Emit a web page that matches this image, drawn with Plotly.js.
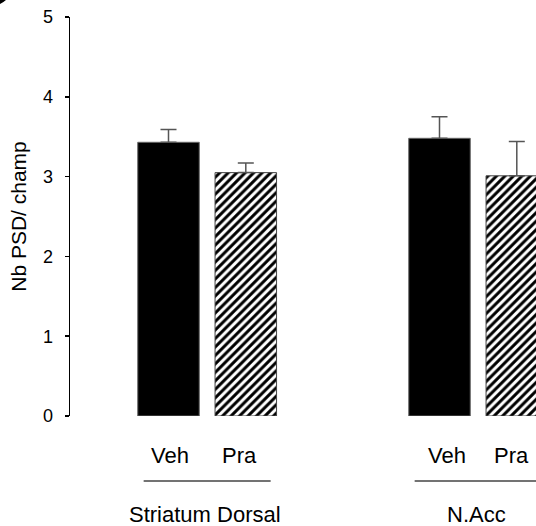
<!DOCTYPE html>
<html>
<head>
<meta charset="utf-8">
<script src="https://cdn.plot.ly/plotly-3.0.1.min.js"></script>
<style>html,body{margin:0;padding:0;background:#fff;}#chart{width:536px;height:526px;}</style>
</head>
<body>
<div id="chart"></div>
<script>
// ---- data ----
const groups = ["Striatum Dorsal", "N.Acc"];
const treatments = ["Veh", "Pra"];
const vehValues = [3.43, 3.48];
const vehErrors = [0.16, 0.27];
const praValues = [3.05, 3.01];
const praErrors = [0.12, 0.43];
const yTicks = [0, 1, 2, 3, 4, 5];
const yTitle = "Nb PSD/ champ";

// ---- layout constants (pixel-like x units) ----
const groupStart = 98.5, groupPitch = 271, barPitch = 77.3, barWidth = 61.5;
const center = (g, b) => groupStart + g * groupPitch + b * barPitch;
const FONT = "Liberation Sans, Arial, sans-serif";

const errStyle = {type: 'data', symmetric: false, arrayminus: [0, 0], color: '#555', thickness: 1.5, width: 8};

const traces = [
  {
    type: 'bar', name: treatments[0],
    x: groups.map((_, g) => center(g, 0)), y: vehValues, width: barWidth,
    marker: {color: '#000', line: {color: '#666', width: 1}},
    error_y: Object.assign({}, errStyle, {array: vehErrors})
  },
  {
    type: 'bar', name: treatments[1],
    x: groups.map((_, g) => center(g, 1)), y: praValues, width: barWidth,
    marker: {color: '#fff', line: {color: '#444', width: 1},
             pattern: {shape: '/', fgcolor: '#000', bgcolor: '#fff', size: 6, solidity: 0.5}},
    error_y: Object.assign({}, errStyle, {array: praErrors})
  }
];

const labelShift = [[1.5, -6.5], [7, -5]];
const annotations = [];
const shapes = [];
groups.forEach((gname, g) => {
  treatments.forEach((t, b) => {
    annotations.push({x: center(g, b), xshift: labelShift[g][b], xref: 'x', y: -0.098, yref: 'paper',
      text: t, showarrow: false, font: {family: FONT, size: 22, color: '#000'}, yanchor: 'middle'});
  });
  const mid = (center(g, 0) + center(g, 1)) / 2;
  annotations.push({x: mid - 2, xref: 'x', y: -0.248, yref: 'paper', text: gname, showarrow: false,
    font: {family: FONT, size: 22, color: '#000'}, yanchor: 'middle'});
  shapes.push({type: 'line', xref: 'x', yref: 'paper', x0: mid - 63.5, x1: mid + 63.5, y0: -0.163, y1: -0.163,
    line: {color: '#444', width: 1.5}});
});
// cut-off panel mark in the top-left corner
shapes.push({type: 'circle', xref: 'paper', yref: 'paper', xsizemode: 'pixel', ysizemode: 'pixel',
  xanchor: -70 / 466, yanchor: 416 / 399, x0: -33.7, x1: 13.7, y0: -6.2, y1: 41.2,
  fillcolor: '#000', line: {width: 0}});

const layout = {
  width: 536, height: 526,
  margin: {l: 70, r: 0, t: 17, b: 110, pad: 0},
  paper_bgcolor: '#fff', plot_bgcolor: '#fff',
  showlegend: false,
  barmode: 'overlay',
  font: {family: FONT, color: '#000'},
  xaxis: {range: [0, 466], visible: false, fixedrange: true},
  yaxis: {
    range: [0, 5], tickvals: yTicks, ticktext: yTicks.map(String),
    showline: true, linecolor: '#000', linewidth: 1.5,
    ticks: 'outside', ticklen: 4, tickwidth: 1.5, tickcolor: '#000',
    ticklabelstandoff: 8,
    showgrid: false, zeroline: false,
    tickfont: {family: FONT, size: 18, color: '#000'},
    title: {text: yTitle, font: {family: FONT, size: 21, color: '#000'}, standoff: 10}
  },
  annotations: annotations,
  shapes: shapes
};

Plotly.newPlot('chart', traces, layout, {staticPlot: true, displayModeBar: false});
</script>
</body>
</html>
